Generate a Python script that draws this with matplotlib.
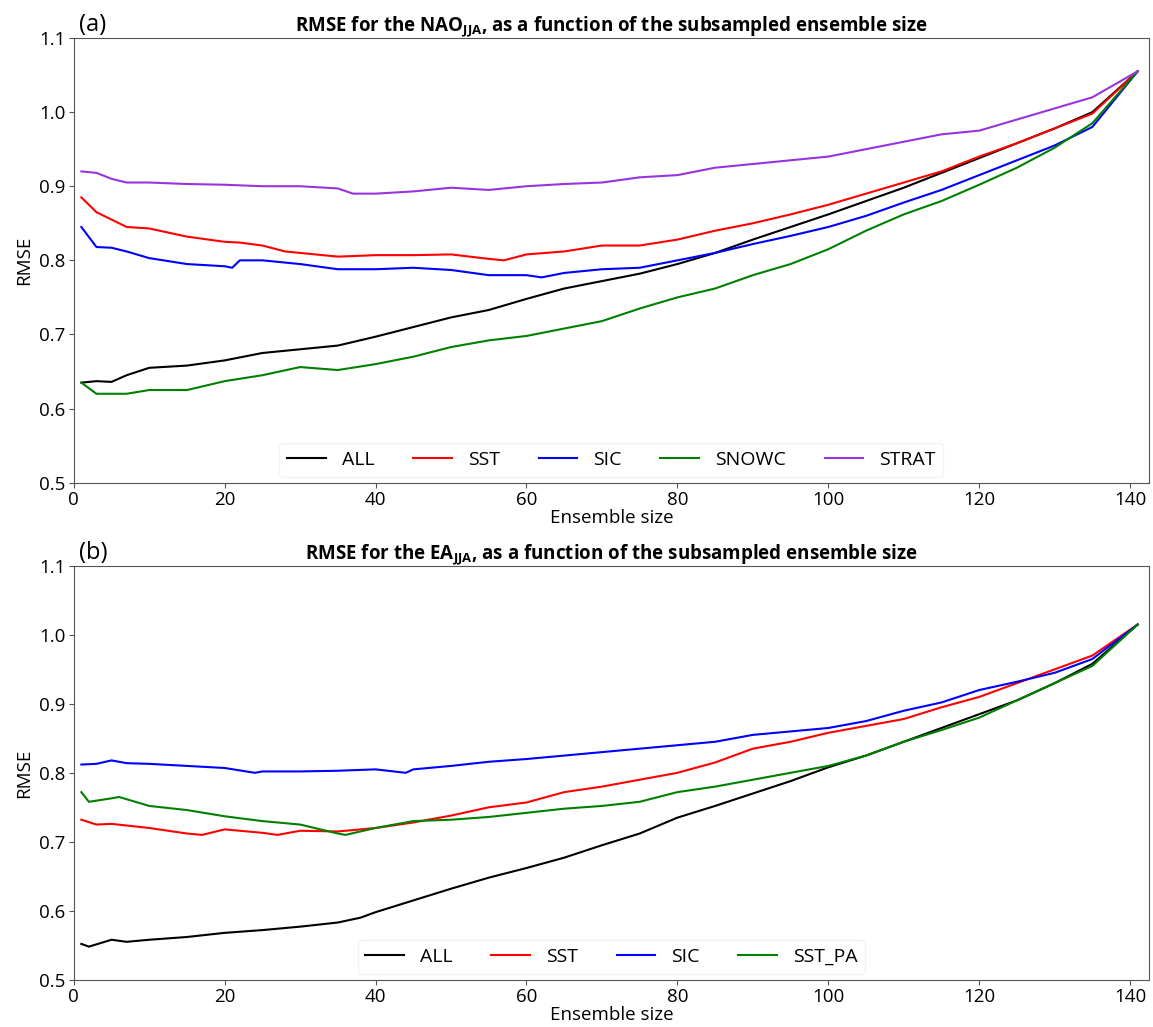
import matplotlib
matplotlib.use("Agg")
import matplotlib.pyplot as plt

plt.rcParams['font.family'] = ['Open Sans', 'DejaVu Sans']
plt.rcParams['mathtext.fontset'] = 'custom'
plt.rcParams['mathtext.rm'] = 'Open Sans'
plt.rcParams['mathtext.bf'] = 'Open Sans:bold'

# Panel (a): NAO JJA
a_all_x = [1, 3, 5, 7, 10, 15, 20, 25, 30, 35, 40, 45, 50, 55, 60, 65, 70, 75, 80, 85, 90, 95, 100, 105, 110, 115, 120, 125, 130, 135, 141]
a_all_y = [0.635, 0.637, 0.636, 0.645, 0.655, 0.658, 0.665, 0.675, 0.680, 0.685, 0.697, 0.710, 0.723, 0.733, 0.748, 0.762, 0.772, 0.782, 0.795, 0.810, 0.828, 0.845, 0.862, 0.880, 0.898, 0.918, 0.938, 0.958, 0.978, 1.000, 1.055]

a_sst_x = [1, 3, 5, 7, 10, 15, 20, 22, 25, 28, 30, 35, 40, 45, 50, 55, 57, 60, 65, 70, 75, 80, 85, 90, 95, 100, 105, 110, 115, 120, 125, 130, 135, 141]
a_sst_y = [0.885, 0.865, 0.855, 0.845, 0.843, 0.832, 0.825, 0.824, 0.820, 0.812, 0.810, 0.805, 0.807, 0.807, 0.808, 0.802, 0.800, 0.808, 0.812, 0.820, 0.820, 0.828, 0.840, 0.850, 0.862, 0.875, 0.890, 0.905, 0.920, 0.940, 0.958, 0.978, 0.998, 1.055]

a_sic_x = [1, 3, 5, 7, 10, 15, 20, 21, 22, 25, 30, 35, 40, 45, 50, 55, 60, 62, 65, 70, 75, 80, 85, 90, 95, 100, 105, 110, 115, 120, 125, 130, 135, 141]
a_sic_y = [0.845, 0.818, 0.817, 0.812, 0.803, 0.795, 0.792, 0.790, 0.800, 0.800, 0.795, 0.788, 0.788, 0.790, 0.787, 0.780, 0.780, 0.777, 0.783, 0.788, 0.790, 0.800, 0.810, 0.822, 0.833, 0.845, 0.860, 0.878, 0.895, 0.915, 0.935, 0.955, 0.980, 1.055]

a_snowc_x = [1, 3, 5, 7, 10, 15, 20, 25, 30, 35, 40, 45, 50, 55, 60, 65, 70, 75, 80, 85, 90, 95, 100, 105, 110, 115, 120, 125, 130, 135, 141]
a_snowc_y = [0.635, 0.620, 0.620, 0.620, 0.625, 0.625, 0.637, 0.645, 0.656, 0.652, 0.660, 0.670, 0.683, 0.692, 0.698, 0.708, 0.718, 0.735, 0.750, 0.762, 0.780, 0.795, 0.815, 0.840, 0.862, 0.880, 0.902, 0.925, 0.952, 0.985, 1.055]

a_strat_x = [1, 3, 5, 7, 10, 15, 20, 25, 30, 35, 37, 40, 45, 50, 55, 60, 65, 70, 75, 80, 85, 90, 95, 100, 105, 110, 115, 120, 125, 130, 135, 141]
a_strat_y = [0.920, 0.918, 0.910, 0.905, 0.905, 0.903, 0.902, 0.900, 0.900, 0.897, 0.890, 0.890, 0.893, 0.898, 0.895, 0.900, 0.903, 0.905, 0.912, 0.915, 0.925, 0.930, 0.935, 0.940, 0.950, 0.960, 0.970, 0.975, 0.990, 1.005, 1.020, 1.055]

# Panel (b): EA JJA
b_all_x = [1, 2, 5, 7, 10, 15, 20, 25, 30, 35, 38, 40, 45, 50, 55, 60, 65, 70, 75, 80, 85, 90, 95, 100, 105, 110, 115, 120, 125, 130, 135, 141]
b_all_y = [0.552, 0.548, 0.558, 0.555, 0.558, 0.562, 0.568, 0.572, 0.577, 0.583, 0.590, 0.598, 0.615, 0.632, 0.648, 0.662, 0.677, 0.695, 0.712, 0.735, 0.752, 0.770, 0.788, 0.808, 0.825, 0.845, 0.865, 0.885, 0.905, 0.930, 0.958, 1.015]

b_sst_x = [1, 3, 5, 10, 15, 17, 20, 25, 27, 30, 35, 40, 45, 50, 55, 60, 65, 70, 75, 80, 85, 90, 95, 100, 105, 110, 115, 120, 125, 130, 135, 141]
b_sst_y = [0.732, 0.725, 0.726, 0.720, 0.712, 0.710, 0.718, 0.713, 0.710, 0.716, 0.715, 0.720, 0.728, 0.738, 0.750, 0.757, 0.772, 0.780, 0.790, 0.800, 0.815, 0.835, 0.845, 0.858, 0.868, 0.878, 0.895, 0.910, 0.930, 0.950, 0.970, 1.015]

b_sic_x = [1, 3, 5, 7, 10, 15, 20, 24, 25, 30, 35, 40, 44, 45, 50, 55, 60, 65, 70, 75, 80, 85, 90, 95, 100, 105, 110, 115, 120, 125, 130, 135, 141]
b_sic_y = [0.812, 0.813, 0.818, 0.814, 0.813, 0.810, 0.807, 0.800, 0.802, 0.802, 0.803, 0.805, 0.800, 0.805, 0.810, 0.816, 0.820, 0.825, 0.830, 0.835, 0.840, 0.845, 0.855, 0.860, 0.865, 0.875, 0.890, 0.902, 0.920, 0.932, 0.945, 0.965, 1.015]

b_sstpa_x = [1, 2, 5, 6, 10, 15, 20, 25, 30, 35, 36, 40, 45, 50, 55, 60, 65, 70, 75, 80, 85, 90, 95, 100, 105, 110, 115, 120, 125, 130, 135, 141]
b_sstpa_y = [0.772, 0.758, 0.763, 0.765, 0.752, 0.746, 0.737, 0.730, 0.725, 0.712, 0.710, 0.720, 0.730, 0.732, 0.736, 0.742, 0.748, 0.752, 0.758, 0.772, 0.780, 0.790, 0.800, 0.810, 0.825, 0.845, 0.862, 0.880, 0.905, 0.930, 0.955, 1.015]

fig = plt.figure(figsize=(11.53, 10.27), dpi=100)
ax1 = fig.add_axes([0.064, 0.530, 0.9325, 0.433])
ax2 = fig.add_axes([0.064, 0.046, 0.9325, 0.403])

ax1.plot(a_all_x, a_all_y, color='black', lw=1.5, label='ALL')
ax1.plot(a_sst_x, a_sst_y, color='red', lw=1.5, label='SST')
ax1.plot(a_sic_x, a_sic_y, color='blue', lw=1.5, label='SIC')
ax1.plot(a_snowc_x, a_snowc_y, color='green', lw=1.5, label='SNOWC')
ax1.plot(a_strat_x, a_strat_y, color='#9933dd', lw=1.5, label='STRAT')

ax2.plot(b_all_x, b_all_y, color='black', lw=1.5, label='ALL')
ax2.plot(b_sst_x, b_sst_y, color='red', lw=1.5, label='SST')
ax2.plot(b_sic_x, b_sic_y, color='blue', lw=1.5, label='SIC')
ax2.plot(b_sstpa_x, b_sstpa_y, color='green', lw=1.5, label='SST_PA')

titles = [r'RMSE for the NAO$_{\mathbf{JJA}}$, as a function of the subsampled ensemble size',
          r'RMSE for the EA$_{\mathbf{JJA}}$, as a function of the subsampled ensemble size']
for ax, tag, ttl, nc in [(ax1, '(a)', titles[0], 5), (ax2, '(b)', titles[1], 4)]:
    ax.set_xlim(0, 142.5)
    ax.set_ylim(0.5, 1.1)
    ax.set_xticks(range(0, 141, 20))
    ax.set_yticks([0.5, 0.6, 0.7, 0.8, 0.9, 1.0, 1.1])
    ax.tick_params(labelsize=13.5, color='#555555', length=3.5, pad=2.5)
    for s in ax.spines.values():
        s.set_color('#555555')
    ax.set_xlabel('Ensemble size', fontsize=13.5, labelpad=0)
    ax.set_ylabel('RMSE', fontsize=13.5, labelpad=4)
    ax.set_title(ttl, fontsize=13.5, fontweight='bold', pad=3)
    ax.text(0.005, 1.003, tag, transform=ax.transAxes, fontsize=17, va='bottom')
    leg = ax.legend(loc='lower center', ncol=nc, fontsize=14, frameon=True,
                    handlelength=2.0, columnspacing=2.0, borderaxespad=0.3)
    leg.get_frame().set_edgecolor('#f2f2f2')

fig.savefig('out.png', dpi=100)
